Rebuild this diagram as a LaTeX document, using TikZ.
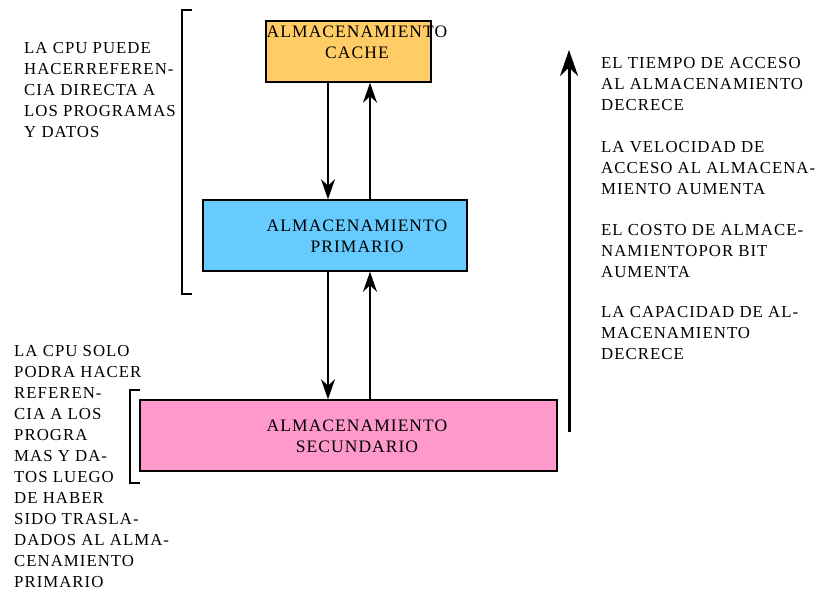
\documentclass[tikz,border=0pt]{standalone}
\usepackage{fontspec}
\setmainfont{Liberation Serif}[LetterSpace=6]
\usetikzlibrary{arrows.meta,positioning}
\definecolor{cachefill}{HTML}{FFCC66}
\definecolor{primfill}{HTML}{66CCFF}
\definecolor{secfill}{HTML}{FF99CC}
\tikzset{store/.style={draw=black, line width=1.5pt, inner sep=0pt},
  boxtext/.style={align=center, inner sep=0pt, font=\fontsize{17.5}{21}\selectfont},
  note/.style={align=left, anchor=north west, inner sep=0pt, font=\fontsize{16.8}{21}\selectfont},
  flow/.style={line width=1.4pt, -{Stealth[length=20pt,width=14pt]}},
  bigflow/.style={line width=3pt, -{Stealth[length=26pt,width=18pt]}},
  bracket/.style={line width=1.3pt}}

\begin{document}
\begin{tikzpicture}[x=1pt,y=-1pt]
\useasboundingbox (0,0) rectangle (816,592);

% storage levels
\node[store, fill=cachefill, minimum width=165pt, minimum height=61pt] (cache) at (348.5,51.5) {};
\node[store, fill=primfill, minimum width=264pt, minimum height=71pt] (prim) at (335,235.5) {};
\node[store, fill=secfill, minimum width=417pt, minimum height=71pt] (sec) at (348.5,435.5) {};

\node[boxtext] (cachetxt) at (357,42) {ALMACENAMIENTO\\CACHE};
\node[boxtext] (primtxt) at (357,236) {ALMACENAMIENTO\\PRIMARIO};
\node[boxtext] (sectxt) at (357,436) {ALMACENAMIENTO\\SECUNDARIO};

% transfers
\coordinate (dn) at (328,0);
\coordinate (up) at (370,0);
\draw[flow] (cache.south -| dn) -- (prim.north -| dn);
\draw[flow] (prim.north -| up) -- (cache.south -| up);
\draw[flow] (prim.south -| dn) -- (sec.north -| dn);
\draw[flow] (sec.north -| up) -- (prim.south -| up);

% brackets
\draw[bracket] (192,10) -| (182,294) -- (192,294);
\draw[bracket] (140,390) -| (130,483) -- (140,483);

\node[note] (direct) at (24,42) {LA CPU PUEDE\\HACERREFEREN-\\CIA DIRECTA A\\LOS PROGRAMAS\\Y DATOS};
\node[note] (indirect) at (14,345) {LA CPU SOLO\\PODRA HACER\\REFEREN-\\CIA A LOS\\PROGRA\\MAS Y DA-\\TOS LUEGO\\DE HABER\\SIDO TRASLA-\\DADOS AL ALMA-\\CENAMIENTO\\PRIMARIO};

% trend
\coordinate (low) at (569,432);
\coordinate (high) at (569,50);
\draw[bigflow] (low) -- (high);

\node[note] (acc) at (601,57) {EL TIEMPO DE ACCESO\\AL ALMACENAMIENTO\\DECRECE};
\node[note, below=30pt of acc.south west, anchor=north west] (vel) {LA VELOCIDAD DE\\ACCESO AL ALMACENA-\\MIENTO AUMENTA};
\node[note, below=30pt of vel.south west, anchor=north west] (cost) {EL COSTO DE ALMACE-\\NAMIENTOPOR BIT\\AUMENTA};
\node[note, below=28pt of cost.south west, anchor=north west] (cap) {LA CAPACIDAD DE AL-\\MACENAMIENTO\\DECRECE};
\end{tikzpicture}
\end{document}
